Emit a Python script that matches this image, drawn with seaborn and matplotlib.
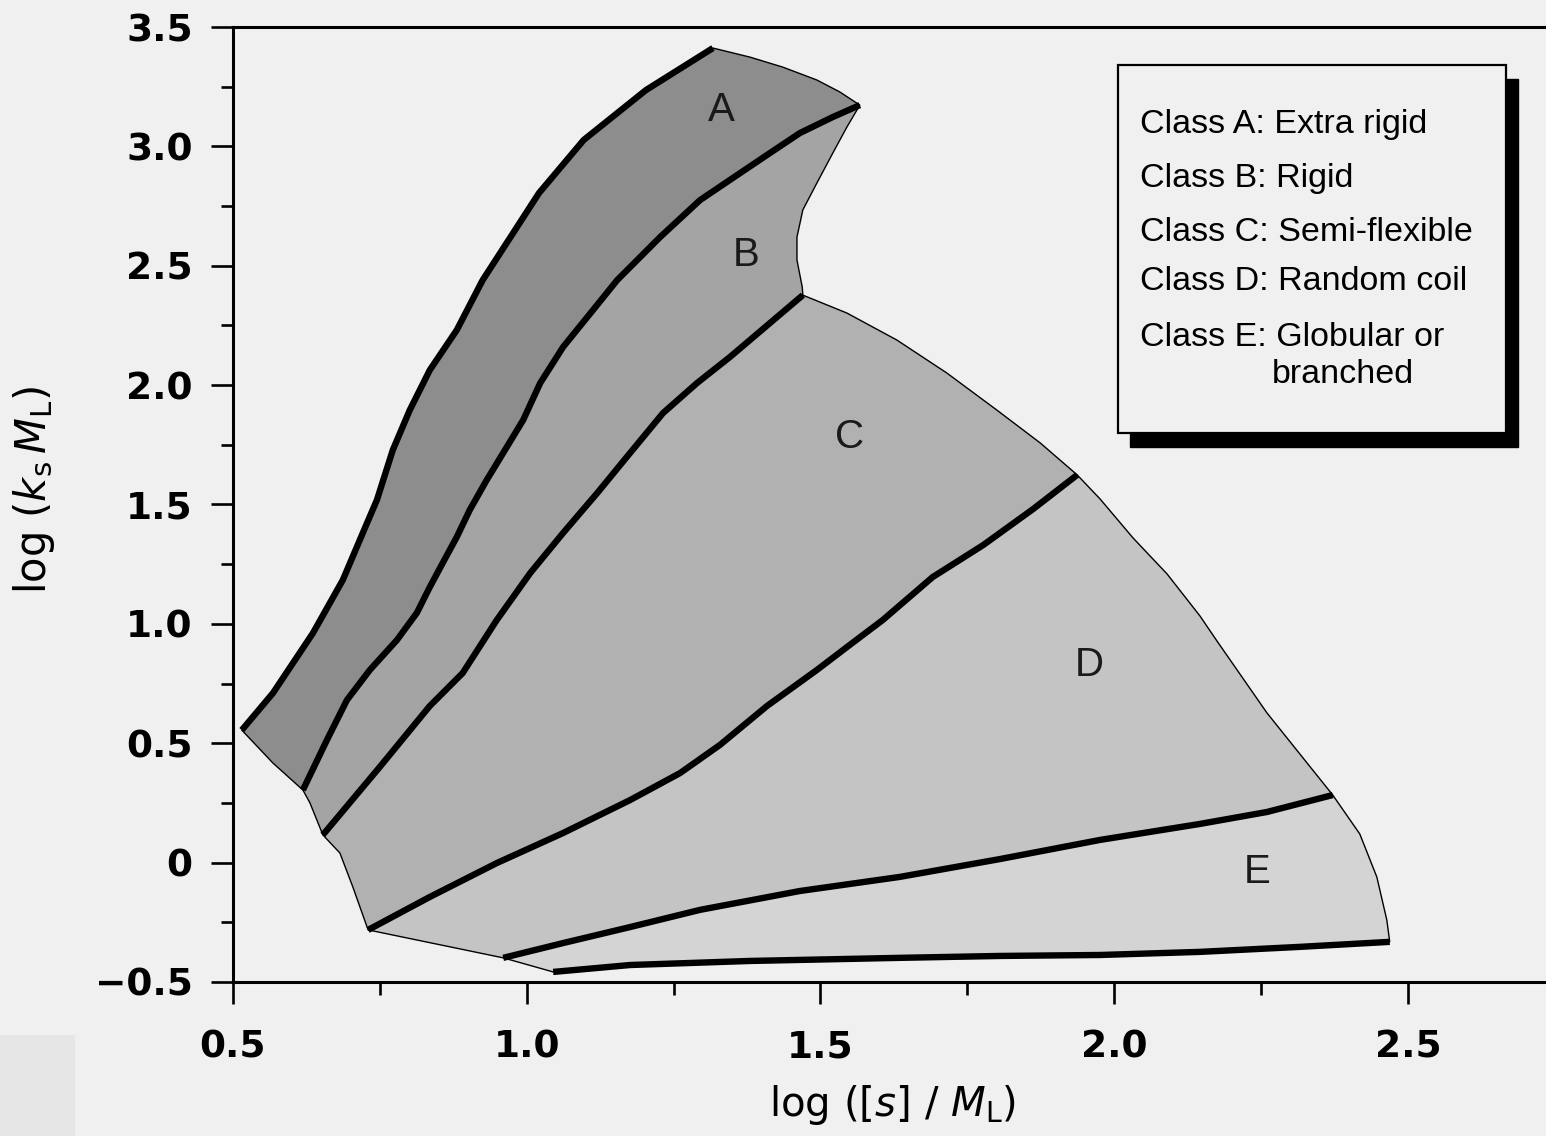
import numpy as np
import matplotlib
matplotlib.use("Agg")
import matplotlib.pyplot as plt
import seaborn as sns
from matplotlib.patches import Rectangle

# ---- boundary curves in (log([s]/M_L), log(k_s M_L)) ----
# thick outer edge of class A
a_outer_x = [0.515, 0.568, 0.636, 0.687, 0.721, 0.745, 0.772, 0.801, 0.835, 0.881, 0.925, 1.021, 1.097, 1.203, 1.317]
a_outer_y = [0.555, 0.710, 0.961, 1.184, 1.381, 1.519, 1.728, 1.896, 2.063, 2.231, 2.440, 2.805, 3.027, 3.236, 3.412]
# thin top edge of class A
a_top_x = [1.317, 1.380, 1.436, 1.494, 1.533, 1.567]
a_top_y = [3.412, 3.374, 3.332, 3.278, 3.228, 3.173]
# A/B divider (top -> bottom)
ab_x = [1.567, 1.521, 1.465, 1.409, 1.351, 1.295, 1.227, 1.154, 1.113, 1.062, 1.023, 0.994, 0.960, 0.932,
        0.903, 0.881, 0.857, 0.835, 0.813, 0.779, 0.733, 0.694, 0.660, 0.619]
ab_y = [3.173, 3.123, 3.056, 2.964, 2.868, 2.775, 2.620, 2.440, 2.315, 2.160, 2.009, 1.854, 1.716, 1.603,
        1.477, 1.364, 1.255, 1.154, 1.046, 0.932, 0.807, 0.681, 0.514, 0.304]
# thin lower edge of class A
a_low_x = [0.619, 0.568, 0.515]
a_low_y = [0.304, 0.417, 0.555]
# thin right edge of class B (top -> bottom)
b_right_x = [1.567, 1.545, 1.521, 1.494, 1.470, 1.460, 1.460, 1.469, 1.470]
b_right_y = [3.173, 3.081, 2.972, 2.847, 2.734, 2.620, 2.524, 2.411, 2.377]
# B/C divider (top -> bottom)
bc_x = [1.470, 1.380, 1.346, 1.290, 1.232, 1.176, 1.120, 1.062, 1.006, 0.949, 0.891, 0.835, 0.750, 0.653]
bc_y = [2.377, 2.189, 2.118, 2.009, 1.883, 1.716, 1.548, 1.381, 1.213, 1.016, 0.794, 0.656, 0.401, 0.116]
# thin lower edge of class B
b_low_x = [0.653, 0.631, 0.619]
b_low_y = [0.116, 0.250, 0.304]
# thin top edge of class C (left -> right)
c_top_x = [1.470, 1.545, 1.630, 1.715, 1.800, 1.874, 1.937]
c_top_y = [2.377, 2.302, 2.189, 2.051, 1.896, 1.758, 1.624]
# C/D divider (top -> bottom)
cd_x = [1.937, 1.862, 1.777, 1.691, 1.606, 1.550, 1.494, 1.409, 1.329, 1.261, 1.176, 1.062, 0.949, 0.835, 0.730]
cd_y = [1.624, 1.481, 1.330, 1.196, 1.016, 0.912, 0.807, 0.656, 0.493, 0.375, 0.262, 0.124, -0.002, -0.144, -0.282]
# thin lower edge of class C
c_low_x = [0.730, 0.704, 0.682, 0.653]
c_low_y = [-0.282, -0.102, 0.040, 0.116]
# thin right edge of class D (top -> bottom)
d_right_x = [1.937, 1.976, 2.032, 2.090, 2.146, 2.175, 2.260, 2.372]
d_right_y = [1.624, 1.523, 1.360, 1.209, 1.033, 0.928, 0.627, 0.283]
# D/E divider (left -> right)
de_x = [0.960, 1.062, 1.176, 1.295, 1.465, 1.635, 1.806, 1.976, 2.146, 2.260, 2.372]
de_y = [-0.399, -0.337, -0.270, -0.198, -0.119, -0.060, 0.015, 0.095, 0.162, 0.212, 0.283]
# thin lower edge of class D
d_low_x = [0.960, 0.730]
d_low_y = [-0.399, -0.282]
# thin right edge of class E (top -> bottom)
e_right_x = [2.372, 2.418, 2.447, 2.464, 2.469]
e_right_y = [0.283, 0.120, -0.060, -0.240, -0.332]
# thick bottom edge of class E (left -> right)
e_bot_x = [1.045, 1.176, 1.380, 1.635, 1.806, 1.976, 2.146, 2.316, 2.469]
e_bot_y = [-0.458, -0.429, -0.412, -0.399, -0.391, -0.387, -0.374, -0.353, -0.332]
# thin lower-left edge of class E
e_low_x = [1.045, 0.960]
e_low_y = [-0.458, -0.399]

class_names = ["A", "B", "C", "D", "E"]
class_label_x = [1.332, 1.373, 1.550, 1.957, 2.243]
class_label_y = [3.152, 2.545, 1.783, 0.828, -0.039]
class_colors = ["#8d8d8d", "#a4a4a4", "#b1b1b1", "#c4c4c4", "#d4d4d4"]

legend_lines = ["Class A: Extra rigid", "Class B: Rigid", "Class C: Semi-flexible",
                "Class D: Random coil", "Class E: Globular or"]
legend_extra = "branched"

x_major = [0.5, 1.0, 1.5, 2.0, 2.5]
x_major_labels = ["0.5", "1.0", "1.5", "2.0", "2.5"]
y_major = [-0.5, 0.0, 0.5, 1.0, 1.5, 2.0, 2.5, 3.0, 3.5]
y_major_labels = ["\u22120.5", "0", "0.5", "1.0", "1.5", "2.0", "2.5", "3.0", "3.5"]

paper = "#f0f0f0"

sns.set_style("ticks")
plt.rcParams["font.family"] = ["Liberation Sans", "DejaVu Sans"]
plt.rcParams["mathtext.fontset"] = "dejavusans"
plt.rcParams["text.color"] = "black"
plt.rcParams["axes.labelcolor"] = "black"

fig = plt.figure(figsize=(15.46, 11.36), dpi=100, facecolor=paper)
ax = fig.add_axes([0.1507, 0.1356, 0.8493, 0.8406])
ax.set_facecolor(paper)


def seq(*parts):
    xs, ys = [], []
    for px, py in parts:
        xs += list(px)
        ys += list(py)
    return np.array(xs), np.array(ys)


rev = lambda a: list(a)[::-1]

polys = [
    seq((a_outer_x, a_outer_y), (a_top_x, a_top_y), (ab_x, ab_y), (a_low_x, a_low_y)),
    seq((rev(ab_x), rev(ab_y)), (b_right_x, b_right_y), (bc_x, bc_y), (b_low_x, b_low_y)),
    seq((rev(bc_x), rev(bc_y)), (c_top_x, c_top_y), (cd_x, cd_y), (c_low_x, c_low_y)),
    seq((rev(cd_x), rev(cd_y)), (d_right_x, d_right_y), (rev(de_x), rev(de_y)), (d_low_x, d_low_y)),
    seq((de_x, de_y), (e_right_x, e_right_y), (rev(e_bot_x), rev(e_bot_y)), (e_low_x, e_low_y)),
]
for (px, py), col in zip(polys, class_colors):
    ax.fill(px, py, facecolor=col, edgecolor="black", linewidth=1.0, zorder=2)

# thick class boundaries
for lx, ly in [(a_outer_x, a_outer_y), (ab_x, ab_y), (bc_x, bc_y), (cd_x, cd_y),
               (de_x, de_y), (e_bot_x, e_bot_y)]:
    sns.lineplot(x=np.array(lx), y=np.array(ly), sort=False, estimator=None, color="black",
                 linewidth=4.6, solid_capstyle="butt", solid_joinstyle="round", ax=ax, zorder=3)

for name, tx, ty in zip(class_names, class_label_x, class_label_y):
    ax.text(tx, ty, name, ha="center", va="center", fontsize=29, color="#1a1a1a",
            family="Liberation Sans", zorder=4)

ax.set_xlim(0.5, 2.735)
ax.set_ylim(-0.5, 3.5)
ax.set_xticks(x_major)
ax.set_xticklabels(x_major_labels)
ax.set_yticks(y_major)
ax.set_yticklabels(y_major_labels)
ax.set_xticks(np.arange(0.75, 2.74, 0.5), minor=True)
ax.set_yticks(np.arange(-0.25, 3.5, 0.5), minor=True)
ax.tick_params(axis="both", which="major", direction="out", length=16, width=1.9,
               color="black", labelcolor="black")
ax.tick_params(axis="both", which="minor", direction="out", length=9, width=1.9, color="black")
ax.tick_params(axis="x", which="major", pad=18)
ax.tick_params(axis="y", which="major", pad=13)
for lab in ax.get_xticklabels() + ax.get_yticklabels():
    lab.set_family("DejaVu Sans")
    lab.set_fontweight("bold")
    lab.set_fontsize(27)

for side in ["left", "bottom", "top"]:
    ax.spines[side].set_linewidth(2.2)
    ax.spines[side].set_color("black")
ax.spines["right"].set_visible(False)

ax.set_xlabel(r"log ([$s$] / $M_{\mathrm{L}}$)", fontsize=29, family="DejaVu Sans")
ax.set_ylabel(r"log ($k_{\mathrm{s}}\,M_{\mathrm{L}}$)", fontsize=30, family="DejaVu Sans")
ax.xaxis.set_label_coords(0.5027, -0.106)
ax.yaxis.set_label_coords(-0.134, 0.515)

# key box with drop shadow
bx0, by0, bw, bh = 0.7232, 0.6188, 0.2509, 0.3240
fig.patches.append(Rectangle((bx0 + 0.0078, by0 - 0.0123), bw, bh, transform=fig.transFigure,
                             facecolor="black", edgecolor="black", zorder=5))
fig.patches.append(Rectangle((bx0, by0), bw, bh, transform=fig.transFigure,
                             facecolor=paper, edgecolor="black", linewidth=1.6, zorder=6))
row_y = [0.8908, 0.8433, 0.7949, 0.7518, 0.7033]
for txt, yy in zip(legend_lines, row_y):
    fig.text(0.7374, yy, txt, fontsize=24.5, ha="left", va="center", color="black", zorder=7)
fig.text(0.8228, 0.6699, legend_extra, fontsize=24.5, ha="left", va="center", color="black", zorder=7)

# lighter corner patch of the page
fig.patches.append(Rectangle((0, 0), 75 / 1546, 101 / 1136, transform=fig.transFigure,
                             facecolor="#e6e6e6", edgecolor="none", zorder=0))

fig.savefig("out.png", dpi=100, facecolor=paper)
